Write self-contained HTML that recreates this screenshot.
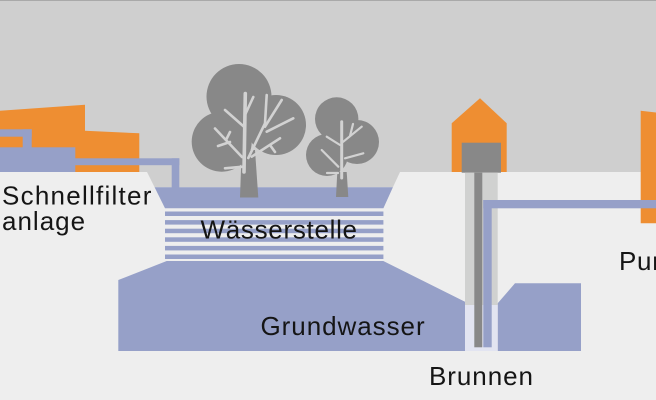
<!DOCTYPE html>
<html><head><meta charset="utf-8"><style>
html,body{margin:0;padding:0;background:#eeeeee;}
svg{display:block;}
text{font-family:"Liberation Sans",sans-serif;font-size:26px;fill:#151515;letter-spacing:0.7px;}
</style></head><body>
<svg width="656" height="400" viewBox="0 0 656 400" xmlns="http://www.w3.org/2000/svg">
<!-- sky -->
<rect x="0" y="0" width="656" height="172" fill="#cfcfcf"/>
<rect x="0" y="0" width="656" height="1" fill="#a9a9a9"/>
<!-- ground -->
<rect x="0" y="172" width="656" height="228" fill="#eeeeee"/>

<!-- left orange building -->
<polygon points="0,110.7 85,104.7 85,130.7 139.3,133.3 139.3,172 0,172" fill="#ee8e32"/>
<!-- filter box & pipes -->
<rect x="0" y="129.3" width="31.7" height="7.4" fill="#96a0c8"/>
<rect x="22.7" y="129.3" width="9" height="18.5" fill="#96a0c8"/>
<rect x="0" y="147.3" width="75.3" height="24.7" fill="#96a0c8"/>

<!-- labels left -->
<text x="2" y="204.3" style="letter-spacing:1.25px">Schnellfilter</text>
<text x="2" y="230" style="letter-spacing:1px">anlage</text>

<!-- pit: sky part -->
<polygon points="147,172 400,172 392.9,187.3 154.6,187.3" fill="#cfcfcf"/>
<!-- pit: pool -->
<polygon points="154.6,187.3 392.9,187.3 383.4,208.3 165,208.3" fill="#96a0c8"/>
<!-- stripes -->
<rect x="165" y="211.5" width="218.4" height="4.5" fill="#96a0c8"/>
<rect x="165" y="220.1" width="218.4" height="4.5" fill="#96a0c8"/>
<rect x="165" y="228.7" width="218.4" height="4.5" fill="#96a0c8"/>
<rect x="165" y="237.3" width="218.4" height="4.5" fill="#96a0c8"/>
<rect x="165" y="245.9" width="218.4" height="4.5" fill="#96a0c8"/>
<rect x="165" y="254.5" width="218.4" height="4.5" fill="#96a0c8"/>

<!-- groundwater -->
<polygon points="166.7,261 383.3,261 465,301.7 465,351 118.3,351 118.3,280" fill="#96a0c8"/>
<polygon points="497.7,303.3 515,283.3 581,283.3 581,351 497.7,351" fill="#96a0c8"/>

<!-- pipe from filter to pool -->
<rect x="75" y="158.3" width="104.3" height="6.9" fill="#96a0c8"/>
<rect x="171.7" y="158.3" width="7.6" height="29.5" fill="#96a0c8"/>

<!-- big tree -->
<g fill="#888888">
<circle cx="239" cy="96.5" r="32.5"/>
<circle cx="221.7" cy="141.7" r="30"/>
<circle cx="276" cy="125" r="30"/>
<polygon points="241.7,150 255,150 258.3,197.5 240,197.5"/>
</g>
<g stroke="#d2d2d2" stroke-width="2.6" stroke-linecap="round" fill="none">
<path d="M244 172 L245.3 93.5" stroke-width="3.6"/>
<path d="M244.3 127 L225 110"/>
<path d="M245 115 L253.3 97"/>
<path d="M242 157 L215 128.5"/>
<path d="M230 142 L218 146"/>
<path d="M226 140 L230 132"/>
<path d="M243.3 166.7 L225 168.3"/>
<path d="M248.3 158 L265 123.3 L266.7 95"/>
<path d="M265 126.7 L281.7 100"/>
<path d="M266.7 131.7 L293.3 118.3"/>
<path d="M251.7 156.7 L280 138.3"/>
<path d="M270 145 L275 152"/>
</g>

<!-- small tree -->
<g fill="#888888">
<circle cx="336.7" cy="119" r="21.7"/>
<circle cx="327" cy="155" r="21"/>
<circle cx="357" cy="142" r="22"/>
<polygon points="337.3,172 346.7,172 348.3,197 336,197"/>
</g>
<g stroke="#d2d2d2" stroke-width="2.2" stroke-linecap="round" fill="none">
<path d="M341.7 178 L341.7 121.7" stroke-width="3"/>
<path d="M340 145 L326.7 136.7"/>
<path d="M338.3 166.7 L321.7 150"/>
<path d="M338 173 L327 173"/>
<path d="M343.3 141.7 L361.7 126.7"/>
<path d="M345 158.3 L363.3 153.3"/>
<path d="M350 136 L353 124"/>
</g>

<!-- labels middle -->
<text x="200.5" y="238.3">Wässerstelle</text>
<text x="260.5" y="335" style="letter-spacing:0.95px">Grundwasser</text>

<!-- right orange building -->
<polygon points="640.7,110.7 656,112.5 656,223.3 640.7,223.3" fill="#ee8e32"/>

<!-- well house -->
<polygon points="451.7,172 451.7,123.3 480,98.3 506.7,123.3 506.7,172" fill="#ee8e32"/>
<rect x="461.7" y="142.7" width="39.3" height="30" fill="#888888"/>
<!-- well shaft -->
<rect x="465" y="172.7" width="32.7" height="132.3" fill="#d0d1d0"/>
<rect x="465" y="305" width="32.7" height="46" fill="#e2e4f1"/>
<rect x="474.3" y="172.7" width="8" height="174.6" fill="#888888"/>
<rect x="483.3" y="200" width="8.4" height="147.3" fill="#96a0c8"/>
<rect x="483.3" y="200" width="172.7" height="8.3" fill="#96a0c8"/>

<!-- labels right -->
<text x="429" y="385" style="letter-spacing:0.95px">Brunnen</text>
<text x="619" y="270">Pumpwerk</text>
</svg>
</body></html>
